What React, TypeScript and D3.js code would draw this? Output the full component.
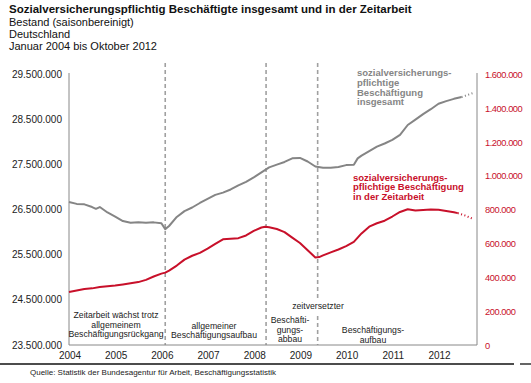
import React from "react";
import * as d3 from "d3";

// month index 0 = Jan 2004
const years = ["2004", "2005", "2006", "2007", "2008", "2009", "2010", "2011", "2012"];
const leftTicks = [23500000, 24500000, 25500000, 26500000, 27500000, 28500000, 29500000];
const rightTicks = [0, 200000, 400000, 600000, 800000, 1000000, 1200000, 1400000, 1600000];

const totalMonths = [0, 2, 4, 6, 7, 8, 10, 12, 14, 16, 18, 20, 22, 24, 25, 26, 28, 30, 32, 34, 36, 38, 40, 42, 44, 46, 48, 50, 52, 54, 56, 58, 60, 62, 64, 66, 68, 70, 72, 74, 75, 76, 78, 80, 82, 84, 86, 88, 90, 92, 94, 96, 98, 100, 102];
const totalValues = [26.67, 26.63, 26.62, 26.56, 26.52, 26.56, 26.44, 26.35, 26.25, 26.21, 26.22, 26.21, 26.22, 26.2, 26.07, 26.14, 26.34, 26.47, 26.55, 26.65, 26.74, 26.83, 26.88, 26.95, 27.04, 27.12, 27.22, 27.33, 27.44, 27.5, 27.56, 27.64, 27.65, 27.57, 27.46, 27.43, 27.43, 27.45, 27.49, 27.5, 27.64, 27.7, 27.8, 27.9, 27.97, 28.05, 28.16, 28.38, 28.5, 28.62, 28.73, 28.85, 28.91, 28.96, 29.0];
const totalProjMonths = [102, 103, 104, 105];
const totalProjValues = [29.0, 29.03, 29.06, 29.09];

const tempMonths = [0, 2, 4, 6, 8, 10, 12, 14, 16, 18, 20, 22, 24, 25, 26, 28, 30, 32, 34, 36, 38, 40, 42, 44, 46, 48, 50, 51, 52, 54, 56, 58, 60, 62, 64, 65, 66, 68, 70, 72, 74, 76, 78, 80, 82, 84, 86, 88, 90, 92, 94, 96, 98, 100, 101];
const tempValues = [313, 322, 331, 335, 343, 348, 352, 358, 365, 372, 385, 405, 422, 428, 440, 470, 505, 528, 545, 570, 598, 625, 628, 632, 648, 675, 695, 700, 697, 686, 668, 635, 603, 560, 518, 520, 530, 548, 565, 585, 610, 660, 700, 720, 735, 760, 787, 803, 795, 798, 802, 800, 793, 785, 780];
const tempProjMonths = [101, 103, 105];
const tempProjValues = [780, 765, 745];

const phaseMarks = [25, 51.2, 64.6];

const W = 531, H = 383;
const x = d3.scaleLinear().domain([0, 106]).range([69, 477]);
const yL = d3.scaleLinear().domain([23500000, 29500000]).range([345, 74.5]);
const yR = d3.scaleLinear().domain([0, 1600000]).range([345, 74.5]);

const GRAY = "#858585";
const RED = "#c8102a";
const FONT = "Liberation Sans, Arial, sans-serif";

const lineL = d3.line<[number, number]>().x(d => x(d[0])).y(d => yL(d[1] * 1e6));
const lineR = d3.line<[number, number]>().x(d => x(d[0])).y(d => yR(d[1] * 1e3));
const zip = (a: number[], b: number[]) => a.map((m, i) => [m, b[i]] as [number, number]);

export default function App() {
  const txt = (s: string, xx: number, yy: number, opts: any = {}) => (
    <text x={xx} y={yy} fontFamily={FONT} fontSize={opts.size ?? 8.7} fill={opts.fill ?? "#222"}
      fontWeight={opts.bold ? "bold" : "normal"} textAnchor={opts.anchor ?? "middle"}>{s}</text>
  );
  return (
    <svg width={W} height={H} style={{ position: "fixed", left: 0, top: 0, background: "#fff" }}>
      <rect x={0} y={0} width={W} height={H} fill="#fff" />
      <text x={9} y={13} fontFamily={FONT} fontSize={11.5} fontWeight="bold" fill="#111">Sozialversicherungspflichtig Beschäftigte insgesamt und in der Zeitarbeit</text>
      <text x={9} y={25.5} fontFamily={FONT} fontSize={11} fill="#111">Bestand (saisonbereinigt)</text>
      <text x={9} y={37.8} fontFamily={FONT} fontSize={11} fill="#111">Deutschland</text>
      <text x={9} y={50} fontFamily={FONT} fontSize={11} fill="#111">Januar 2004 bis Oktober 2012</text>

      {/* phase dashed lines */}
      {phaseMarks.map((m, i) => i === 2 ? (
        <g key={i}>
          <line x1={x(m)} x2={x(m)} y1={63} y2={298} stroke="#a0a0a0" strokeWidth={1.6} strokeDasharray="4 3" />
          <line x1={x(m)} x2={x(m)} y1={316} y2={345} stroke="#a0a0a0" strokeWidth={1.6} strokeDasharray="4 3" />
        </g>
      ) : (
        <line key={i} x1={x(m)} x2={x(m)} y1={63} y2={345} stroke="#a0a0a0" strokeWidth={1.6} strokeDasharray="4 3" />
      ))}

      {/* axes */}
      <line x1={69} x2={69} y1={73} y2={345} stroke="#888" strokeWidth={1} />
      <line x1={477} x2={477} y1={73} y2={345} stroke="#888" strokeWidth={1} />
      <line x1={69} x2={477} y1={345} y2={345} stroke="#888" strokeWidth={1} />

      {leftTicks.map(t => (
        <text key={t} x={62} y={yL(t) + 3.5} fontFamily={FONT} fontSize={10} textAnchor="end" fill="#222">{d3.format(",")(t).replace(/,/g, ".")}</text>
      ))}
      {rightTicks.map(t => (
        <text key={t} x={485} y={yR(t) + 3.5} fontFamily={FONT} fontSize={9.3} textAnchor="start" fill={RED} letterSpacing={-0.45}>{d3.format(",")(t).replace(/,/g, ".")}</text>
      ))}
      {years.map((yv, i) => (
        <text key={yv} x={x(i * 12) + 1} y={359} fontFamily={FONT} fontSize={10} textAnchor="middle" fill="#222">{yv}</text>
      ))}

      {/* series */}
      <path d={lineL(zip(totalMonths, totalValues)) ?? ""} fill="none" stroke={GRAY} strokeWidth={2} strokeLinejoin="round" />
      <path d={lineL(zip(totalProjMonths, totalProjValues)) ?? ""} fill="none" stroke={GRAY} strokeWidth={2} strokeDasharray="1 2.5" />
      <path d={lineR(zip(tempMonths, tempValues)) ?? ""} fill="none" stroke={RED} strokeWidth={2} strokeLinejoin="round" />
      <path d={lineR(zip(tempProjMonths, tempProjValues)) ?? ""} fill="none" stroke={RED} strokeWidth={2} strokeDasharray="1 2.5" />

      {/* series labels */}
      {["sozialversicherungs-", "pflichtige", "Beschäftigung", "insgesamt"].map((s, i) =>
        <g key={s}>{txt(s, 357, 76 + i * 9.8, { anchor: "start", bold: true, size: 9.5, fill: GRAY })}</g>)}
      {["sozialversicherungs-", "pflichtige Beschäftigung", "in der Zeitarbeit"].map((s, i) =>
        <g key={s}>{txt(s, 353, 180.5 + i * 9.5, { anchor: "start", bold: true, size: 9.5, fill: RED })}</g>)}

      {/* phase labels */}
      {["Zeitarbeit wächst trotz", "allgemeinem", "Beschäftigungsrückgang"].map((s, i) =>
        <g key={s}>{txt(s, 116, 318 + i * 9.5)}</g>)}
      {["allgemeiner", "Beschäftigungsaufbau"].map((s, i) =>
        <g key={s}>{txt(s, 214, 328.5 + i * 9.5)}</g>)}
      {["Beschäfti-", "gungs-", "abbau"].map((s, i) =>
        <g key={s}>{txt(s, 290, 323 + i * 9.5)}</g>)}
      {txt("zeitversetzter", 318, 309)}
      {["Beschäftigungs-", "aufbau"].map((s, i) =>
        <g key={s}>{txt(s, 373, 333 + i * 9.5)}</g>)}

      {/* footer */}
      <line x1={0} x2={514} y1={364} y2={364} stroke="#111" strokeWidth={1.3} />
      <line x1={520} x2={531} y1={364} y2={364} stroke="#111" strokeWidth={1.3} />
      <text x={30} y={375} fontFamily={FONT} fontSize={8} fill="#222">Quelle: Statistik der Bundesagentur für Arbeit, Beschäftigungsstatistik</text>
    </svg>
  );
}
